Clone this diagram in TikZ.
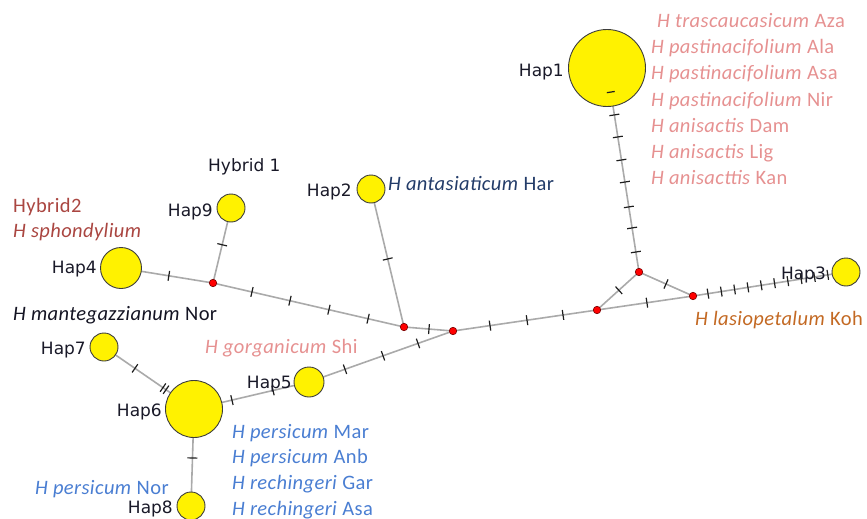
\documentclass[tikz,border=0pt]{standalone}
\usepackage{fontspec}
\setmainfont{Carlito}[LetterSpace=2]
\newfontfamily\hapfont{DejaVu Sans}
\usetikzlibrary{backgrounds}
\definecolor{hapline}{RGB}{60,60,60}
\definecolor{medline}{RGB}{120,0,0}
\definecolor{edgec}{RGB}{170,170,170}
\definecolor{tickc}{RGB}{30,30,30}
\definecolor{hapc}{RGB}{25,25,40}
\definecolor{pinkc}{RGB}{230,145,145}
\definecolor{brownc}{RGB}{170,70,65}
\definecolor{bluec}{RGB}{74,126,210}
\definecolor{orangec}{RGB}{195,105,35}
\definecolor{navyc}{RGB}{35,60,105}
\definecolor{darkc}{RGB}{20,20,35}
\tikzset{
 hap/.style={circle, draw=hapline, fill=yellow, line width=0.9pt, inner sep=0pt},
 med/.style={circle, draw=medline, fill=red, inner sep=0pt, minimum size=7.5pt, line width=0.6pt},
 edge/.style={draw=edgec, line width=1.6pt},
 tk/.style={sloped, rectangle, draw=tickc, line width=1.2pt, inner sep=0pt, minimum width=0pt, minimum height=10pt},
 hlbl/.style={font=\hapfont\fontsize{17}{20}\selectfont, text=hapc, inner sep=0pt, anchor=base east},
 sp/.style={font=\fontsize{20.5}{23}\selectfont, inner sep=0pt, anchor=base west},
}
\begin{document}
\begin{tikzpicture}[x=1pt,y=-1pt]
\useasboundingbox (0,0) rectangle (867,519);
% haplotypes
\node[hap, minimum size=77pt] (hap1) at (607,68) {};
\node[hap, minimum size=28pt] (hap2) at (371,189) {};
\node[hap, minimum size=28pt] (hap3) at (846,272) {};
\node[hap, minimum size=41pt] (hap4) at (121,268) {};
\node[hap, minimum size=30pt] (hap5) at (309,382) {};
\node[hap, minimum size=57pt] (hap6) at (194,409) {};
\node[hap, minimum size=28pt] (hap7) at (104,347) {};
\node[hap, minimum size=28pt] (hap8) at (191,506) {};
\node[hap, minimum size=28pt] (hap9) at (231,208) {};
% median vectors
\node[med] (m1) at (213,283) {};
\node[med] (m2) at (404,327) {};
\node[med] (m3) at (453,331) {};
\node[med] (m4) at (597,310) {};
\node[med] (m5) at (639,272) {};
\node[med] (m6) at (693,296) {};
% edges
\begin{scope}[on background layer]
\draw[edge] (hap4.center) -- (m1.center) node[tk,pos=.52]{};
\draw[edge] (hap9.center) -- (m1.center) node[tk,pos=.49]{};
\draw[edge] (m1.center) -- (m2.center) node[tk,pos=.204]{} node[tk,pos=.403]{} node[tk,pos=.607]{} node[tk,pos=.812]{};
\draw[edge] (hap2.center) -- (m2.center) node[tk,pos=.507]{};
\draw[edge] (m2.center) -- (m3.center) node[tk,pos=.51]{};
\draw[edge] (m3.center) -- (m4.center) node[tk,pos=.257]{} node[tk,pos=.514]{} node[tk,pos=.764]{};
\draw[edge] (m3.center) -- (hap5.center) node[tk,pos=.243]{} node[tk,pos=.486]{} node[tk,pos=.75]{};
\draw[edge] (hap5.center) -- (hap6.center) node[tk,pos=.313]{} node[tk,pos=.67]{};
\draw[edge] (hap7.center) -- (hap6.center) node[tk,pos=.344]{} node[tk,pos=.655]{} node[tk,pos=.689]{};
\draw[edge] (hap6.center) -- (hap8.center) node[tk,pos=.505]{};
\draw[edge] (m4.center) -- (m5.center) node[tk,pos=.52]{};
\draw[edge] (m4.center) -- (m6.center) node[tk,pos=.52]{};
\draw[edge] (m5.center) -- (m6.center) node[tk,pos=.5]{};
\draw[edge] (hap1.center) -- (m5.center)
  node[tk,pos=.230]{} node[tk,pos=.338]{} node[tk,pos=.451]{} node[tk,pos=.559]{}
  node[tk,pos=.681]{} node[tk,pos=.784]{} node[tk,pos=.902]{};
\draw[edge] (m6.center) -- (hap3.center)
  node[tk,pos=.098]{} node[tk,pos=.185]{} node[tk,pos=.272]{} node[tk,pos=.359]{}
  node[tk,pos=.446]{} node[tk,pos=.533]{} node[tk,pos=.62]{} node[tk,pos=.707]{}
  node[tk,pos=.794]{} node[tk,pos=.881]{};
\end{scope}
\path (hap1.center) -- (m5.center) node[tk,pos=.118,minimum height=8pt]{};
% haplotype labels
\node[hlbl] (l1) at (564,76) {Hap1};
\node[hlbl] (l2) at (352,196) {Hap2};
\node[hlbl] (l3) at (826,279) {Hap3};
\node[hlbl] (l4) at (97,273) {Hap4};
\node[hlbl] (l5) at (292,388) {Hap5};
\node[hlbl] (l6) at (162,416) {Hap6};
\node[hlbl] (l7) at (86,354) {Hap7};
\node[hlbl] (l8) at (173,513) {Hap8};
\node[hlbl] (l9) at (213,216) {Hap9};
\node[hlbl, anchor=base west] (hy1) at (208,171) {Hybrid 1};
% species labels
\node[sp, text=pinkc] (a1) at (657,28) {\textit{H trascaucasicum} Aza};
\node[sp, text=pinkc] (a2) at (651,54) {\textit{H pastinacifolium} Ala};
\node[sp, text=pinkc] (a3) at (651,80) {\textit{H pastinacifolium} Asa};
\node[sp, text=pinkc] (a4) at (651,106) {\textit{H pastinacifolium} Nir};
\node[sp, text=pinkc] (a5) at (651,132) {\textit{H anisactis} Dam};
\node[sp, text=pinkc] (a6) at (651,158) {\textit{H anisactis} Lig};
\node[sp, text=pinkc] (a7) at (651,184) {\textit{H anisacttis} Kan};
\node[sp, text=navyc] (b1) at (388,190) {\textit{H antasiaticum} Har};
\node[sp, text=brownc] (c1) at (13,212) {Hybrid2};
\node[sp, text=brownc] (c2) at (13,237) {\textit{H sphondylium}};
\node[sp, text=darkc] (d1) at (13,320) {\textit{H mantegazzianum} Nor};
\node[sp, text=pinkc] (e1) at (205,353) {\textit{H gorganicum} Shi};
\node[sp, text=orangec] (f1) at (695,325) {\textit{H lasiopetalum} Koh};
\node[sp, text=bluec] (g1) at (232,438) {\textit{H persicum} Mar};
\node[sp, text=bluec] (g2) at (232,463) {\textit{H persicum} Anb};
\node[sp, text=bluec] (g3) at (232,489) {\textit{H rechingeri} Gar};
\node[sp, text=bluec] (g4) at (232,515) {\textit{H rechingeri} Asa};
\node[sp, text=bluec] (g5) at (35,494) {\textit{H persicum} Nor};
\end{tikzpicture}
\end{document}
